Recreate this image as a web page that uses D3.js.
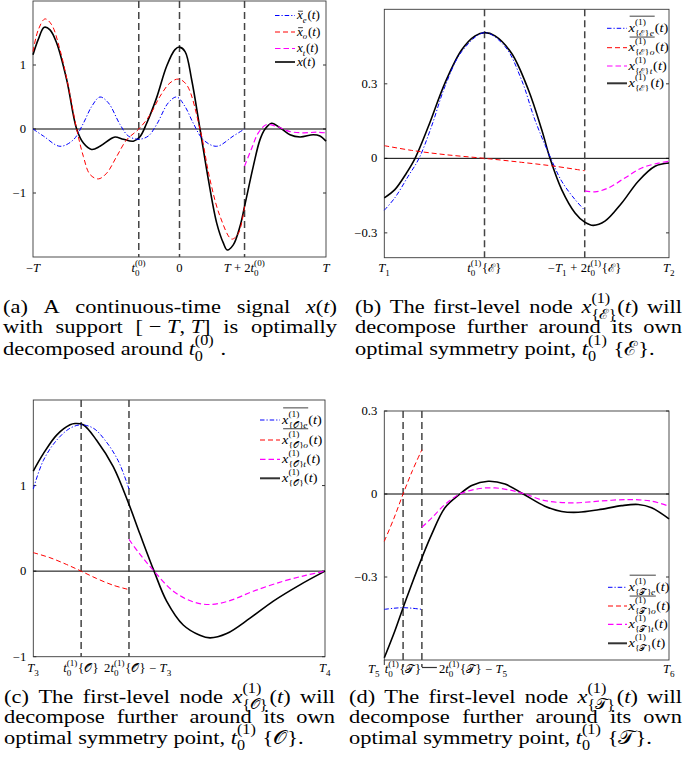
<!DOCTYPE html>
<html>
<head>
<meta charset="utf-8">
<script src="https://cdn.jsdelivr.net/npm/d3@7"></script>
<style>
  body { margin: 0; background: #fff; }
  svg text { font-family: "Liberation Serif", "Times New Roman", serif; fill: #000; white-space: pre; }
</style>
</head>
<body>
<script>
// calligraphic letters used in the labels
var CE = "\u2130", CO = "\uD835\uDCAA", CT = "\uD835\uDCAF";

/* ---------- panel (a) ---------- */
var aT0 = -0.278;
var aXTicks = [-1, aT0, 0, 1 + 2 * aT0, 1];
var aYTicks = [1, 0, -1];
var aBlackT = [-1, -0.964, -0.923, -0.884, -0.838, -0.77, -0.702, -0.656, -0.6, -0.543, -0.474, -0.44, -0.383, -0.315, -0.27, -0.224, -0.156, -0.088, -0.031, 0, 0.038, 0.083, 0.14, 0.197, 0.254, 0.299, 0.326, 0.367, 0.413, 0.444, 0.504, 0.549, 0.584, 0.629, 0.686, 0.754, 0.823, 0.913, 0.959, 1];
var aBlack  = [1.16, 1.40, 1.59, 1.55, 1.34, 0.77, 0, -0.22, -0.32, -0.27, -0.16, -0.125, -0.16, -0.19, -0.12, 0.09, 0.49, 0.98, 1.24, 1.28, 1.21, 0.77, 0, -0.79, -1.47, -1.78, -1.89, -1.81, -1.52, -1.21, -0.58, -0.17, 0, 0.09, 0.02, -0.09, -0.125, -0.09, -0.11, -0.19];
var aOddT = [-1, -0.964, -0.918, -0.873, -0.816, -0.759, -0.702, -0.656, -0.611, -0.554, -0.497, -0.429, -0.361, -0.278, -0.201, -0.133, -0.065, -0.008, 0.049, 0.14, 0.208, 0.276, 0.356, 0.402, 0.444];
var aOdd  = [1.21, 1.55, 1.72, 1.63, 1.24, 0.67, 0, -0.43, -0.71, -0.78, -0.69, -0.43, -0.17, 0, 0.22, 0.51, 0.72, 0.78, 0.69, 0, -0.79, -1.36, -1.72, -1.63, -1.21];
var aEvenT = [-1, -0.929, -0.816, -0.725, -0.656, -0.6, -0.543, -0.486, -0.406, -0.349, -0.278, -0.213, -0.156, -0.076, -0.019, 0.038, 0.094, 0.163, 0.254, 0.367, 0.444];
var aEven  = [0, -0.11, -0.27, -0.17, 0.09, 0.35, 0.5, 0.41, 0.07, -0.11, -0.16, -0.11, 0.07, 0.41, 0.5, 0.35, 0.09, -0.17, -0.27, -0.11, 0];
var aTailT = [0.444, 0.493, 0.538, 0.595, 0.663, 0.754, 0.845, 0.936, 1];
var aTail  = [-0.58, -0.30, -0.06, 0.07, 0.04, -0.04, -0.06, -0.05, -0.06];

/* ---------- panel (b) ---------- */
var bT0 = 0.352;
var bXTicks = [0, bT0, 2 * bT0, 1];
var bYTicks = [0.3, 0, -0.3];
var bBlackT = [0, 0.037, 0.078, 0.108, 0.155, 0.213, 0.272, 0.319, 0.352, 0.389, 0.447, 0.506, 0.553, 0.582, 0.623, 0.67, 0.704, 0.734, 0.775, 0.834, 0.892, 0.951, 1];
var bBlack  = [-0.159, -0.126, -0.059, 0, 0.129, 0.303, 0.437, 0.493, 0.506, 0.493, 0.423, 0.276, 0.115, 0, -0.126, -0.22, -0.257, -0.27, -0.253, -0.18, -0.092, -0.032, -0.019];
var bEvenT = [0, 0.037, 0.084, 0.122, 0.166, 0.213, 0.272, 0.352, 0.424, 0.482, 0.529, 0.585, 0.623, 0.67, 0.704];
var bEven  = [-0.209, -0.159, -0.072, 0, 0.129, 0.289, 0.43, 0.506, 0.45, 0.316, 0.155, 0, -0.092, -0.166, -0.209];
var bOddT = [0, 0.096, 0.213, 0.352, 0.482, 0.6, 0.704];
var bOdd  = [0.051, 0.032, 0.015, 0, -0.016, -0.032, -0.05];
var bTailT = [0.704, 0.74, 0.787, 0.845, 0.904, 0.963, 1];
var bTail  = [-0.131, -0.135, -0.119, -0.079, -0.039, -0.019, -0.012];

/* ---------- panel (c) ---------- */
var cT0 = 0.164;
var cXTicks = [0, cT0, 2 * cT0, 1];
var cYTicks = [1, 0, -1];
var cBlackT = [0, 0.034, 0.08, 0.126, 0.143, 0.171, 0.217, 0.274, 0.328, 0.366, 0.414, 0.457, 0.514, 0.571, 0.606, 0.663, 0.743, 0.823, 0.914, 1];
var cBlack  = [1.17, 1.37, 1.59, 1.71, 1.725, 1.71, 1.53, 1.22, 0.78, 0.43, 0, -0.35, -0.63, -0.75, -0.78, -0.73, -0.55, -0.35, -0.16, 0];
var cEvenT = [0, 0.034, 0.08, 0.126, 0.164, 0.206, 0.246, 0.291, 0.328];
var cEven  = [0.96, 1.29, 1.53, 1.67, 1.71, 1.67, 1.53, 1.29, 0.96];
var cOddT = [0, 0.057, 0.114, 0.164, 0.217, 0.274, 0.328];
var cOdd  = [0.216, 0.157, 0.078, 0, -0.086, -0.165, -0.216];
var cTailT = [0.328, 0.366, 0.414, 0.48, 0.549, 0.606, 0.674, 0.754, 0.857, 0.937, 1];
var cTail  = [0.37, 0.196, 0, -0.235, -0.36, -0.39, -0.345, -0.235, -0.118, -0.047, 0];

/* ---------- panel (d) ---------- */
var dT0 = 0.066;
var dXTicks = [0, dT0, 2 * dT0, 1];
var dYTicks = [0.3, 0, -0.3];
var dBlackT = [0, 0.037, 0.066, 0.096, 0.132, 0.166, 0.213, 0.266, 0.307, 0.365, 0.424, 0.488, 0.564, 0.623, 0.681, 0.752, 0.834, 0.892, 0.939, 1];
var dBlack  = [-0.592, -0.495, -0.411, -0.327, -0.231, -0.147, -0.05, 0, 0.031, 0.046, 0.036, 0, -0.044, -0.063, -0.066, -0.057, -0.042, -0.038, -0.05, -0.09];
var dEvenT = [0, 0.033, 0.066, 0.099, 0.132];
var dEven  = [-0.417, -0.413, -0.411, -0.413, -0.417];
var dOddT = [0, 0.033, 0.066, 0.099, 0.132];
var dOdd  = [-0.171, -0.09, 0, 0.085, 0.16];
var dTailT = [0.132, 0.166, 0.213, 0.266, 0.33, 0.389, 0.447, 0.494, 0.564, 0.658, 0.752, 0.857, 0.939, 1];
var dTail  = [-0.12, -0.087, -0.038, 0, 0.019, 0.022, 0.013, 0, -0.024, -0.032, -0.026, -0.02, -0.026, -0.044];

/* ---------- tick labels (mini math markup) ---------- */
function t0(sup, set) { return [{i: "t"}, {sup: sup, sub: "0"}].concat(set ? ["{" + set + "}"] : []); }
var aXLabels = [["\u2212", {i: "T"}], t0("(0)"), ["0"], [{i: "T"}, " + 2", {i: "t"}, {sup: "(0)", sub: "0"}], [{i: "T"}]];
var bXLabels = [[{i: "T"}, {sub: "1"}], t0("(1)", CE), ["\u2212", {i: "T"}, {sub: "1"}, " + 2"].concat(t0("(1)", CE)), [{i: "T"}, {sub: "2"}]];
var cXLabels = [[{i: "T"}, {sub: "3"}], t0("(1)", CO), ["2"].concat(t0("(1)", CO), [" \u2212 ", {i: "T"}, {sub: "3"}]), [{i: "T"}, {sub: "4"}]];
var dXLabels = [[{i: "T"}, {sub: "5"}], t0("(1)", CT), ["2"].concat(t0("(1)", CT), [" \u2212 ", {i: "T"}, {sub: "5"}]), [{i: "T"}, {sub: "6"}]];
var intLabels = ["1", "0", "\u22121"];
var decLabels = ["0.3", "0", "\u22120.3"];

function nodeLabel(set, kind, bar) {
  var core = [{i: "x"}, {sup: "(1)", sub: kind ? ["{" + set + "}", {i: kind}] : "{" + set + "}"}];
  if (bar) core = [{bar: core, hi: 1.25, lo: 0.42}];
  return core.concat(["(", {i: "t"}, ")"]);
}
var aLegend = [
  [{bar: [{i: "x"}], hi: 0.68}, {sub: [{i: "e"}]}, "(", {i: "t"}, ")"],
  [{bar: [{i: "x"}], hi: 0.68}, {sub: [{i: "o"}]}, "(", {i: "t"}, ")"],
  [{i: "x"}, {sub: [{i: "t"}]}, "(", {i: "t"}, ")"],
  [{i: "x"}, "(", {i: "t"}, ")"]
];
function legendFor(set) { return [nodeLabel(set, "e", true), nodeLabel(set, "o"), nodeLabel(set, "t"), nodeLabel(set, null)]; }

/* ---------- drawing helpers ---------- */
var svg = d3.select("body").append("svg").attr("width", 690).attr("height", 778);
var scriptRatio = 0.72, supRaise = 0.55;

function word(g, s, x, y, size, italic) {
  var t = g.append("text").attr("x", x).attr("y", y)
    .style("font-size", size + "px")
    .style("font-style", italic ? "italic" : "normal")
    .text(s);
  return t.node().getComputedTextLength();
}

function put(g, p, x, y, size) {
  if (p == null) return 0;
  if (typeof p === "string") return word(g, p, x, y, size, false);
  if (Array.isArray(p)) {
    var w = 0;
    p.forEach(function(q) { w += put(g, q, x + w, y, size); });
    return w;
  }
  if (p.i) return word(g, p.i, x, y, size, true);
  if (p.bar) {
    var bw = put(g, p.bar, x, y, size);
    g.append("line").attr("x1", x + 1).attr("x2", x + bw)
      .attr("y1", y - size * p.hi).attr("y2", y - size * p.hi)
      .attr("stroke", "#000").attr("stroke-width", 0.7);
    if (p.lo) {
      g.append("line").attr("x1", x + 1).attr("x2", x + bw)
        .attr("y1", y + size * p.lo).attr("y2", y + size * p.lo)
        .attr("stroke", "#000").attr("stroke-width", 0.7);
    }
    return bw;
  }
  // stacked super/subscript
  var s = size * scriptRatio, w = 0;
  if (p.sup) w = Math.max(w, put(g, p.sup, x, y - size * supRaise, s));
  if (p.sub) w = Math.max(w, put(g, p.sub, x, y + size * 0.33, s));
  return w + size * 0.05;
}

function label(parent, p, x, y, size, anchor, sx) {
  sx = sx || 1;
  var g = parent.append("g");
  var w = put(g, p, 0, 0, size) * sx;
  var dx = anchor === "middle" ? -w / 2 : anchor === "end" ? -w : 0;
  g.attr("transform", "translate(" + (x + dx) + "," + y + ") scale(" + sx + ",1)");
  return w;
}

var styles = {
  e: { stroke: "#0000ff", width: 1, dash: "4.5,2,1.2,2" },
  o: { stroke: "#ff0000", width: 1, dash: "5,3" },
  t: { stroke: "#ff00ff", width: 1.2, dash: "5.5,3" },
  x: { stroke: "#000", width: 1.6, dash: null }
};
var FS = 11.5, SX = 1.1;

function panel(c) {
  var x = d3.scaleLinear().domain(c.xDomain).range([c.left, c.right]);
  var y = d3.scaleLinear().domain(c.yDomain).range([c.bottom, c.top]);
  var g = svg.append("g");

  g.append("rect")
    .attr("x", c.left).attr("y", c.top)
    .attr("width", c.right - c.left).attr("height", c.bottom - c.top)
    .attr("fill", "none").attr("stroke", "#3a3a3a").attr("stroke-width", 0.9);

  scriptRatio = 0.72;
  c.yTicks.forEach(function(v, i) {
    var yy = y(v);
    g.append("line").attr("x1", c.left).attr("x2", c.left + 3).attr("y1", yy).attr("y2", yy).attr("stroke", "#333");
    g.append("line").attr("x1", c.right - 3).attr("x2", c.right).attr("y1", yy).attr("y2", yy).attr("stroke", "#333");
    label(g, c.yLabels[i], c.left - 7, yy + 4, FS, "end", SX);
  });

  c.xTicks.forEach(function(v, i) {
    label(g, c.xLabels[i], x(v) + (c.xShift ? c.xShift[i] : 0), c.xLabelY, FS,
      c.xAnchor ? c.xAnchor[i] : "middle", SX);
  });

  // zero line
  g.append("line").attr("x1", c.left).attr("x2", c.right)
    .attr("y1", y(0)).attr("y2", y(0)).attr("stroke", "#000").attr("stroke-width", 1);

  // symmetry markers
  c.vlines.forEach(function(v) {
    g.append("line").attr("x1", x(v)).attr("x2", x(v))
      .attr("y1", c.top).attr("y2", c.vBottom || c.bottom)
      .attr("stroke", "#444").attr("stroke-width", 1.5).attr("stroke-dasharray", "7,4");
  });

  var line = d3.line()
    .x(function(d) { return x(d[0]); })
    .y(function(d) { return y(d[1]); })
    .curve(d3.curveCatmullRom);

  c.series.forEach(function(s) {
    var st = styles[s.kind];
    g.append("path").datum(d3.zip(s.t, s.v))
      .attr("d", line)
      .attr("fill", "none")
      .attr("stroke", st.stroke)
      .attr("stroke-width", st.width)
      .attr("stroke-dasharray", st.dash)
      .attr("stroke-linejoin", "round");
  });

  // legend
  var kinds = ["e", "o", "t", "x"];
  scriptRatio = 0.66;
  c.legend.forEach(function(p, i) {
    var st = styles[kinds[i]];
    var ry = c.legendRows[i];
    g.append("line").attr("x1", c.legendX[0]).attr("x2", c.legendX[1])
      .attr("y1", ry).attr("y2", ry)
      .attr("stroke", kinds[i] === "x" ? "#333" : st.stroke)
      .attr("stroke-width", kinds[i] === "x" ? 2 : st.width)
      .attr("stroke-dasharray", st.dash);
    label(g, p, c.legendX[2], ry + 3.5, c.legendSize, "start", 1.15);
  });
  scriptRatio = 0.72;

  return { x: x, y: y, g: g };
}

panel({
  left: 33, right: 326, top: 1, bottom: 257,
  xDomain: [-1, 1], yDomain: [-2, 2],
  yTicks: aYTicks, yLabels: intLabels,
  xTicks: aXTicks, xLabels: aXLabels, xLabelY: 272,
  vlines: [aT0, 0, 1 + 2 * aT0],
  series: [
    { kind: "x", t: aBlackT, v: aBlack },
    { kind: "e", t: aEvenT, v: aEven },
    { kind: "o", t: aOddT, v: aOdd },
    { kind: "t", t: aTailT, v: aTail }
  ],
  legend: aLegend, legendRows: [15.5, 32, 48.5, 62], legendX: [275, 295, 297], legendSize: 11.5
});

panel({
  left: 384.3, right: 669, top: 9.3, bottom: 257.7,
  xDomain: [0, 1], yDomain: [-0.4, 0.6],
  yTicks: bYTicks, yLabels: decLabels,
  xTicks: bXTicks, xLabels: bXLabels, xLabelY: 272,
  vlines: [bT0, 2 * bT0],
  series: [
    { kind: "x", t: bBlackT, v: bBlack },
    { kind: "e", t: bEvenT, v: bEven },
    { kind: "o", t: bOddT, v: bOdd },
    { kind: "t", t: bTailT, v: bTail }
  ],
  legend: legendFor(CE), legendRows: [28.3, 47.7, 66, 83.3], legendX: [607, 627, 628.5], legendSize: 12.5
});

panel({
  left: 33.3, right: 325, top: 400, bottom: 656.7,
  xDomain: [0, 1], yDomain: [-1, 2],
  yTicks: cYTicks, yLabels: intLabels,
  xTicks: cXTicks, xLabels: cXLabels, xLabelY: 672, xShift: [0, 0, 9, 0],
  vlines: [cT0, 2 * cT0],
  series: [
    { kind: "x", t: cBlackT, v: cBlack },
    { kind: "e", t: cEvenT, v: cEven },
    { kind: "o", t: cOddT, v: cOdd },
    { kind: "t", t: cTailT, v: cTail }
  ],
  legend: legendFor(CO), legendRows: [420, 440, 459.3, 478.3], legendX: [260, 280, 282], legendSize: 12.5
});

var pd = panel({
  left: 384.3, right: 669, top: 411, bottom: 660,
  xDomain: [0, 1], yDomain: [-0.6, 0.3],
  yTicks: dYTicks, yLabels: decLabels,
  xTicks: dXTicks, xLabels: dXLabels, xLabelY: 673,
  xAnchor: ["end", "middle", "start", "middle"], xShift: [-4, 0, 17, 0],
  vlines: [dT0, 2 * dT0], vBottom: 667,
  series: [
    { kind: "x", t: dBlackT, v: dBlack },
    { kind: "e", t: dEvenT, v: dEven },
    { kind: "o", t: dOddT, v: dOdd },
    { kind: "t", t: dTailT, v: dTail }
  ],
  legend: legendFor(CT), legendRows: [587.3, 606, 624.3, 643.3], legendX: [608, 627, 628.5], legendSize: 12.5
});
// little leader strokes under panel (d)'s crowded tick labels
pd.g.append("line").attr("x1", pd.x(0)).attr("x2", pd.x(0)).attr("y1", 660).attr("y2", 665).attr("stroke", "#333");
pd.g.append("line").attr("x1", pd.x(2 * dT0)).attr("x2", pd.x(2 * dT0) + 15).attr("y1", 667.5).attr("y2", 667.5).attr("stroke", "#333").attr("stroke-width", 1.2);

/* ---------- captions ---------- */
var CAP = 19.5;
scriptRatio = 0.72;
supRaise = 0.5;
// horizontal scale of the caption type, fitted to the width "decomposed around" takes in the figure
var probe = svg.append("g");
var CAPF = 180 / put(probe, "decomposed around", 0, 0, CAP);
probe.remove();

function caption(x0, x1, ys, lines) {
  lines.forEach(function(words, li) {
    var row = svg.append("g");
    var gs = [], total = 0;
    words.forEach(function(wd) {
      var g = row.append("g");
      var w = put(g, wd, 0, 0, CAP);
      gs.push([g, w]);
      total += w;
    });
    var gap = li < lines.length - 1 ? ((x1 - x0) / CAPF - total) / (words.length - 1) : CAP * 0.25;
    var cx = 0;
    gs.forEach(function(d) {
      d[0].attr("transform", "translate(" + cx + ",0)");
      cx += d[1] + gap;
    });
    row.attr("transform", "translate(" + x0 + "," + ys[li] + ") scale(" + CAPF + ",1)");
  });
}
function nodeCap(set) {
  return [
    ["(" + set.tag + ")", "The", "first-level", "node", [{i: "x"}, {sup: "(1)", sub: "{" + set.c + "}"}, "(", {i: "t"}, ")"], "will"],
    ["decompose", "further", "around", "its", "own"],
    ["optimal", "symmetry", "point,", [{i: "t"}, {sup: "(1)", sub: "0"}, " {" + set.c + "}."]]
  ];
}

caption(3, 337, [313, 333, 355], [
  ["(a)", "A", "continuous-time", "signal", [{i: "x"}, "(", {i: "t"}, ")"]],
  ["with", "support", ["[ \u2212 ", {i: "T"}, ", ", {i: "T"}, "]"], "is", "optimally"],
  ["decomposed", "around", [{i: "t"}, {sup: "(0)", sub: "0"}, " ."]]
]);
caption(355, 682, [313, 333, 355], nodeCap({ tag: "b", c: CE }));
caption(4, 335, [703, 722.5, 744], nodeCap({ tag: "c", c: CO }));
caption(349, 682, [703, 722.5, 744], nodeCap({ tag: "d", c: CT }));
</script>
</body>
</html>
